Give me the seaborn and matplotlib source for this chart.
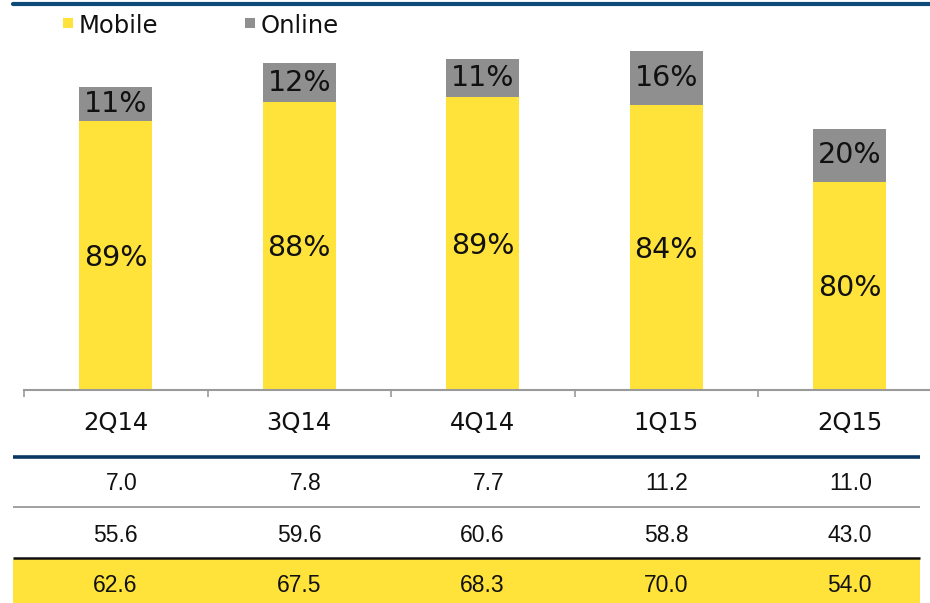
import numpy as np
import pandas as pd
import matplotlib
matplotlib.use('Agg')
import matplotlib.pyplot as plt
import matplotlib.transforms as mtransforms
from matplotlib.patches import Rectangle
import seaborn as sns

quarters = ['2Q14', '3Q14', '4Q14', '1Q15', '2Q15']
online = [7.0, 7.8, 7.7, 11.2, 11.0]
mobile = [55.6, 59.6, 60.6, 58.8, 43.0]
total = [62.6, 67.5, 68.3, 70.0, 54.0]

yellow = '#FFE33B'
grey = '#8F8F8F'
navy = '#0E4A78'

df = pd.DataFrame({'quarter': quarters, 'online': online, 'mobile': mobile, 'total': total})
df['online_pct'] = (df['online'] / df['total'] * 100).round().astype(int)
df['mobile_pct'] = (df['mobile'] / df['total'] * 100).round().astype(int)

sns.set_style('white')
plt.rcParams['font.family'] = ['DejaVu Sans']

W, H = 930, 603
fig = plt.figure(figsize=(9.3, 6.03), dpi=100)

# main bar axes (pixel layout)
ax = fig.add_axes([24 / W, (H - 390) / H, (W - 24) / W, 350 / H])
sns.barplot(data=df, x='quarter', y='total', color=grey, width=0.4,
            saturation=1, linewidth=0, ax=ax)
sns.barplot(data=df, x='quarter', y='mobile', color=yellow, width=0.4,
            saturation=1, linewidth=0, ax=ax)
ax.set_xlim(-0.5, -0.5 + (W - 24) / 183.5)
ax.set_ylim(0, 350 / 4.84)

for i, row in df.iterrows():
    ax.text(i, row['mobile'] / 2 - 0.5, f"{row['mobile_pct']}%", ha='center', va='center',
            fontsize=20.5, color='#111111')
    ax.text(i, row['mobile'] + row['online'] / 2, f"{row['online_pct']}%", ha='center',
            va='center', fontsize=20.5, color='#111111')

for s in ['top', 'left', 'right']:
    ax.spines[s].set_visible(False)
ax.spines['bottom'].set_color('#9A9A9A')
ax.spines['bottom'].set_linewidth(1.5)
ax.set_yticks([])
ax.set_xlabel('')
ax.set_ylabel('')
ax.set_xticks(np.arange(-0.5, 4.0, 1.0))
ax.set_xticklabels([])
ax.tick_params(axis='x', which='major', direction='out', length=5, width=1.2,
               color='#9A9A9A', bottom=True)
ax.set_xticks(range(len(quarters)), minor=True)
ax.set_xticklabels(quarters, minor=True, fontsize=17.5, color='#111111')
ax.tick_params(axis='x', which='minor', length=0, pad=15)

# table area below the chart, y in pixel rows of the figure
tab = fig.add_axes([0, 0, 1, (H - 440) / H])
tab.set_xlim(0, W)
tab.set_ylim(H, 440)
tab.axis('off')
tab.add_patch(Rectangle((13, 559), 920 - 13, H - 559, color=yellow, lw=0))
tab.hlines(457, 13, 920, color='#0A3862', lw=2.6)
tab.hlines(507, 13, 920, color='#9A9A9A', lw=1.3)
tab.hlines(558, 13, 920, color='#111111', lw=1.8)

trans = mtransforms.blended_transform_factory(ax.transData, tab.transData)
rows = [(484, online), (535, mobile), (585, total)]
for y, vals in rows:
    for i, v in enumerate(vals):
        tab.text(i + 0.12, y, f'{v:.1f}', transform=trans, ha='right', va='center',
                 fontsize=16.5, family='Liberation Sans', color='#111111')

# header line and legend
fig.add_artist(plt.Line2D([13 / W, 1], [1 - 4 / H, 1 - 4 / H], color=navy, lw=3))
fig.add_artist(Rectangle((63 / W, 1 - 28 / H), 10 / W, 10 / H, color=yellow, lw=0,
                         transform=fig.transFigure))
fig.text(79 / W, 1 - 26 / H, 'Mobile', ha='left', va='center', fontsize=17.5, color='#111111')
fig.add_artist(Rectangle((245 / W, 1 - 28 / H), 10 / W, 10 / H, color=grey, lw=0,
                         transform=fig.transFigure))
fig.text(261 / W, 1 - 26 / H, 'Online', ha='left', va='center', fontsize=17.5, color='#111111')

fig.savefig('out.png', dpi=100)
